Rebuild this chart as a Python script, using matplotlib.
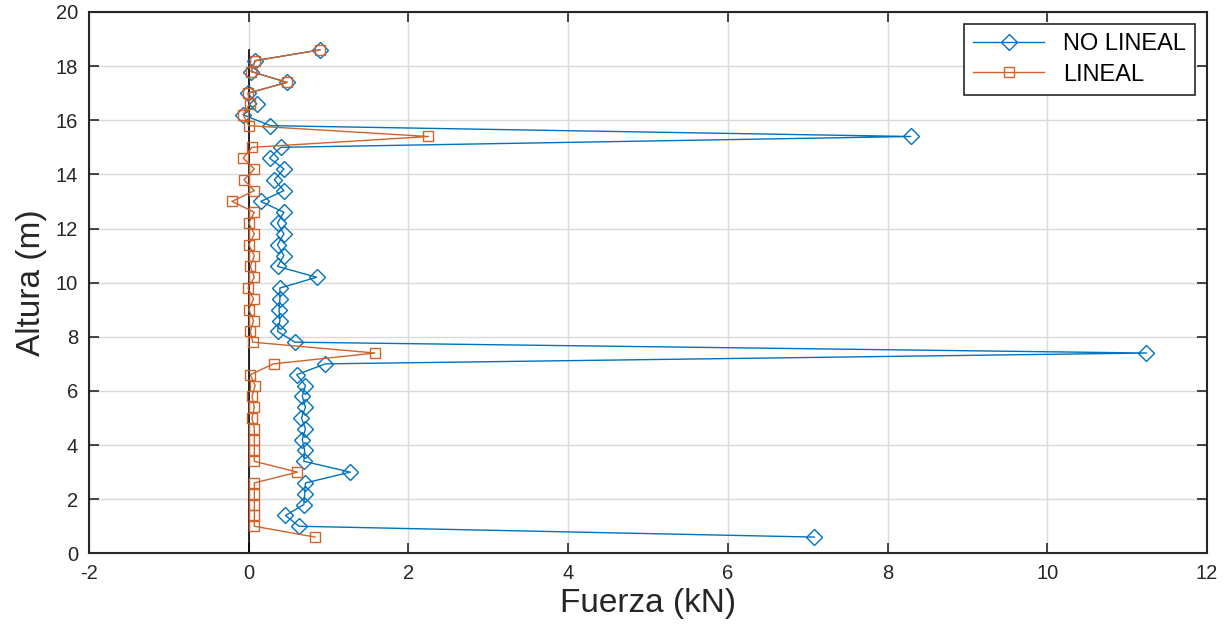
import matplotlib
matplotlib.use("Agg")
import matplotlib.pyplot as plt

plt.rcParams['font.family'] = ['Liberation Sans', 'DejaVu Sans']
plt.rcParams['axes.unicode_minus'] = False

# alturas de los niveles (m)
altura = [0.6, 1.0, 1.4, 1.8, 2.2, 2.6, 3.0, 3.4, 3.8, 4.2, 4.6, 5.0, 5.4, 5.8,
          6.2, 6.6, 7.0, 7.4, 7.8, 8.2, 8.6, 9.0, 9.4, 9.8, 10.2, 10.6, 11.0,
          11.4, 11.8, 12.2, 12.6, 13.0, 13.4, 13.8, 14.2, 14.6, 15.0, 15.4,
          15.8, 16.2, 16.6, 17.0, 17.4, 17.8, 18.2, 18.6]

# fuerza (kN) - analisis no lineal
no_lineal = [7.08, 0.63, 0.46, 0.69, 0.70, 0.71, 1.27, 0.69, 0.70, 0.67, 0.71,
             0.66, 0.71, 0.67, 0.71, 0.60, 0.96, 11.24, 0.58, 0.36, 0.39, 0.38,
             0.39, 0.39, 0.85, 0.36, 0.44, 0.36, 0.44, 0.36, 0.44, 0.15, 0.44,
             0.32, 0.44, 0.26, 0.40, 8.29, 0.27, -0.07, 0.10, -0.01, 0.48,
             0.03, 0.08, 0.89]

# fuerza (kN) - analisis lineal
lineal = [0.83, 0.07, 0.07, 0.07, 0.07, 0.07, 0.61, 0.07, 0.07, 0.07, 0.07,
          0.04, 0.07, 0.04, 0.08, 0.02, 0.31, 1.58, 0.05, 0.02, 0.06, 0.00,
          0.06, -0.01, 0.07, 0.02, 0.07, 0.00, 0.07, 0.00, 0.07, -0.21, 0.07,
          -0.06, 0.07, -0.07, 0.04, 2.25, 0.00, -0.07, 0.01, -0.01, 0.48,
          0.03, 0.08, 0.89]

# eje vertical de referencia
eje_x = [0, 0]
eje_y = [0, 18.6]

azul = '#0072BD'
naranja = '#D0622A'

fig = plt.figure(figsize=(12.28, 6.31), dpi=100)
ax = fig.add_axes([0.0725, 0.1231, 0.9105, 0.8579])

ax.plot(no_lineal, altura, color=azul, marker='D', markersize=8.3,
        markerfacecolor='none', lw=1.0, label='NO LINEAL', zorder=3)
ax.plot(lineal, altura, color=naranja, marker='s', markersize=7.5,
        markerfacecolor='none', lw=1.0, label='LINEAL', zorder=3)
ax.plot(eje_x, eje_y, color='black', lw=1.2, zorder=2.5)

ax.set_xlim(-2, 12)
ax.set_ylim(0, 20)
ax.set_xticks(range(-2, 13, 2))
ax.set_yticks(range(0, 21, 2))
ax.grid(True, color='#dadada', lw=1.0)
ax.set_axisbelow(True)

ax.tick_params(direction='in', length=7, width=1.2, top=True, right=True,
               labelsize=14.5, colors='#262626', pad=8)
for s in ax.spines.values():
    s.set_linewidth(1.5)
    s.set_color('#262626')

ax.set_xlabel('Fuerza (kN)', fontsize=24, color='#262626', labelpad=3)
ax.set_ylabel('Altura (m)', fontsize=24, color='#262626', labelpad=6)

leg = ax.legend(loc='upper right', fontsize=17, fancybox=False,
                framealpha=1, edgecolor='#262626', handlelength=3.0,
                borderaxespad=0.5, borderpad=0.4, labelspacing=0.35)
leg.get_frame().set_linewidth(1.2)

fig.savefig('out.png', dpi=100)
